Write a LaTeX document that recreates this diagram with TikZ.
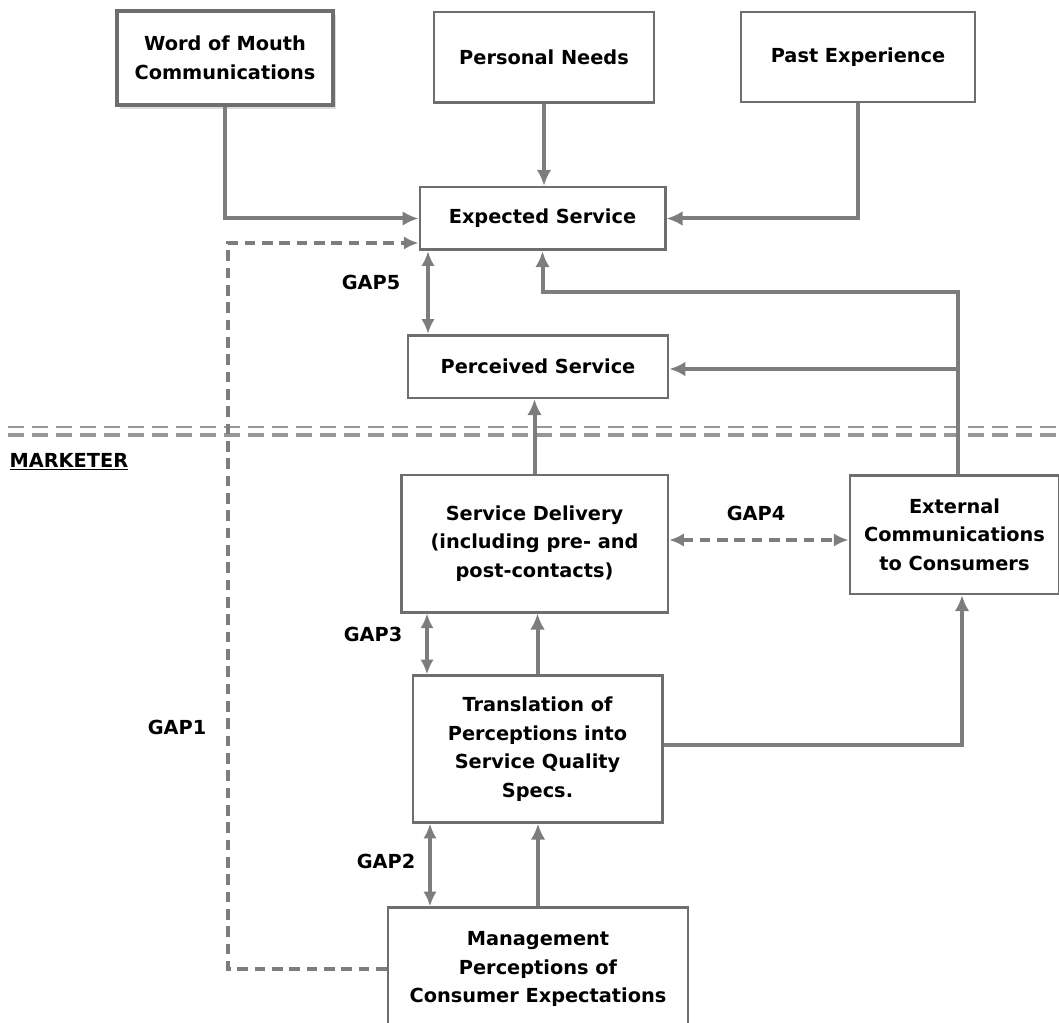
\documentclass[tikz,border=0pt]{standalone}
\usepackage{fontspec}
\setmainfont{DejaVu Sans}
\usetikzlibrary{arrows.meta,shadows,calc}
\definecolor{ln}{RGB}{125,125,125}
\definecolor{bx}{RGB}{110,110,110}
\tikzset{
  box/.style={draw=bx, line width=2pt, fill=white, align=center, inner sep=2pt,
    font=\bfseries\fontsize{14.5}{21.4}\selectfont},
  lbl/.style={font=\bfseries\fontsize{14.5}{16}\selectfont, inner sep=1pt},
  conn/.style={draw=ln, line width=3pt, -{Latex[length=12pt,width=11pt]}},
  gapar/.style={draw=ln, line width=2.8pt, {Latex[length=11pt,width=10pt]}-{Latex[length=11pt,width=10pt]}},
  gapdash/.style={draw=ln, line width=3.4pt, dash pattern=on 8pt off 5pt},
  sep/.style={draw=ln!80, line width=2.6pt, dash pattern=on 12pt off 6pt}
}
\begin{document}
\begin{tikzpicture}[x=0.75pt,y=-0.75pt]
\useasboundingbox (0,0) rectangle (1059,1023);
% boxes
\node[box, line width=3pt, drop shadow={shadow xshift=2pt,shadow yshift=-3pt,fill=gray!55}, minimum width=162pt, minimum height=70pt] (wom) at (225,58) {Word of Mouth\\Communications};
\node[box, minimum width=165pt, minimum height=68pt] (pn) at (544,57.5) {Personal Needs};
\node[box, minimum width=175.5pt, minimum height=67.5pt] (pe) at (858,57) {Past Experience};
\node[box, minimum width=184pt, minimum height=47pt] (es) at (542.5,218.5) {Expected Service};
\node[box, minimum width=195pt, minimum height=47pt] (ps) at (538,366.5) {Perceived Service};
\node[box, minimum width=200pt, minimum height=103pt] (sd) at (534.5,543.5) {Service Delivery\\(including pre- and\\post-contacts)};
\node[box, minimum width=157pt, minimum height=89pt] (ec) at (954.5,534.5) {External\\Communications\\to Consumers};
\node[box, minimum width=187pt, minimum height=110pt] (tr) at (537.5,749) {Translation of\\Perceptions into\\Service Quality\\Specs.};
\node[box, minimum width=225pt, minimum height=92pt] (mg) at (538,969) {Management\\Perceptions of\\Consumer Expectations};

% separator
\coordinate (sepL) at (8,427);
\coordinate (sepR) at (1059,427);
\coordinate (sepL2) at (8,435);
\coordinate (sepR2) at (1059,435);
\draw[sep, line width=1.8pt] (sepL) -- (sepR);
\draw[sep] (sepL2) -- (sepR2);
\node[lbl, anchor=west] (mk) at (8,462) {\underline{MARKETER}};

% connectors
\draw[conn] (wom.south) |- (es.west);
\draw[conn] (pn.south) -- (pn.south |- es.north);
\draw[conn] (pe.south) |- (es.east);
\coordinate (jt) at (958,292);
\draw[conn] (ec.north -| jt) -- (jt) -| (es.south);
\coordinate (jp) at (958,369);
\draw[conn] (jp) -- (jp -| ps.east);
\draw[conn] (sd.north) -- (sd.north |- ps.south);
\draw[conn] (tr.north) -- (tr.north |- sd.south);
\draw[conn] (mg.north) -- (mg.north |- tr.south);
\coordinate (te) at (962,745);
\draw[conn] (te -| tr.east) -- (te) -- (te |- ec.south);

% gaps
\coordinate (g5) at (428,250);
\draw[gapar] (g5 |- es.south) -- (g5 |- ps.north);
\node[lbl] (gap5) at (371,282) {GAP5};
\coordinate (g3) at (427,612);
\draw[gapar] (g3 |- sd.south) -- (g3 |- tr.north);
\node[lbl] (gap3) at (373,634) {GAP3};
\coordinate (g2) at (430,822);
\draw[gapar] (g2 |- tr.south) -- (g2 |- mg.north);
\node[lbl] (gap2) at (386,861) {GAP2};
\coordinate (g4) at (760,540);
\draw[gapdash, {Latex[length=11pt,width=10pt]}-{Latex[length=11pt,width=10pt]}] (g4 -| sd.east) -- (g4 -| ec.west);
\node[lbl] (gap4) at (756,513) {GAP4};
\coordinate (g1) at (228,243);
\draw[gapdash, -{Latex[length=11pt,width=10pt]}] (mg.west) -| (g1) -- (g1 -| es.west);
\node[lbl] (gap1) at (177,727) {GAP1};
\end{tikzpicture}
\end{document}
